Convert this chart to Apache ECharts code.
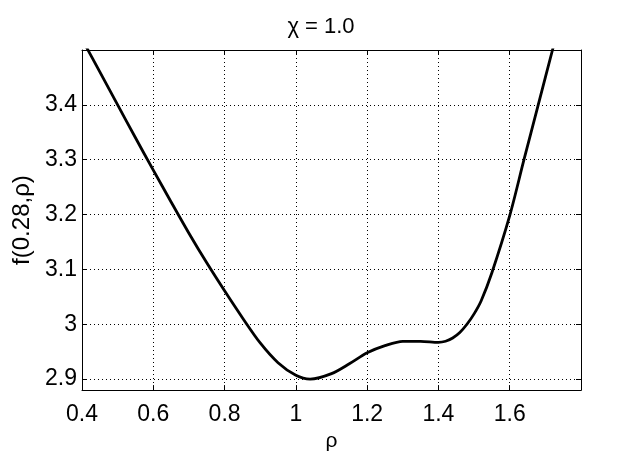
<!DOCTYPE html>
<html>
<head>
<meta charset="utf-8">
<script src="https://cdn.jsdelivr.net/npm/echarts@6/dist/echarts.min.js"></script>
<style>html,body{margin:0;padding:0;background:#fff;}#c{width:642px;height:457px;}</style>
</head>
<body>
<div id="c"></div>
<script>
var rho = [0.40,0.45,0.50,0.55,0.60,0.65,0.70,0.75,0.80,0.85,0.90,0.95,1.00,1.04,1.10,1.15,1.20,1.25,1.30,1.35,1.40,1.42,1.44,1.46,1.48,1.50,1.52,1.55,1.60,1.64,1.68,1.72,1.75];
var fval = [3.520,3.460,3.400,3.340,3.281,3.223,3.166,3.112,3.061,3.012,2.966,2.930,2.907,2.900,2.910,2.928,2.948,2.961,2.969,2.969,2.967,2.969,2.975,2.985,3.000,3.019,3.043,3.094,3.198,3.300,3.400,3.500,3.575];
var xTicks = [0.4,0.6,0.8,1.0,1.2,1.4,1.6];
var yTicks = [2.9,3.0,3.1,3.2,3.3,3.4];
var titleText = 'χ = 1.0';
var xName = 'ρ';
var yName = 'f(0.28,ρ)';

var pts = rho.map(function(r,i){return [r,fval[i]];});
var font = 'Liberation Sans';
var chart = echarts.init(document.getElementById('c'));
var gridLine = {show:true, lineStyle:{color:'#000', type:[1,3], width:1}};
chart.setOption({
  animation:false,
  backgroundColor:'#fff',
  title:{text:titleText, left:'center', top:11, textStyle:{fontFamily:font, fontSize:22, fontWeight:'normal', color:'#000'}},
  grid:{left:82, right:61, top:50, bottom:59, show:false},
  xAxis:[{
    type:'value', min:0.4, max:1.8, interval:0.2, position:'bottom',
    name:xName, nameLocation:'middle', nameGap:40,
    nameTextStyle:{fontFamily:font, fontSize:21, color:'#000'},
    axisLine:{show:true, onZero:false, lineStyle:{color:'#000', width:1}},
    axisTick:{show:true, inside:true, length:5, lineStyle:{color:'#000'}},
    axisLabel:{fontFamily:font, fontSize:23, color:'#000', margin:13,
      formatter:function(v){ var r=Math.round(v*10)/10; if(r>1.7) return ''; return (r===1)?'1':String(r);} },
    splitLine:gridLine
  },{
    type:'value', min:0.4, max:1.8, interval:0.2, position:'top',
    axisLine:{show:true, onZero:false, lineStyle:{color:'#000', width:1}},
    axisTick:{show:true, inside:true, length:5, lineStyle:{color:'#000'}},
    axisLabel:{show:false}, splitLine:{show:false}
  }],
  yAxis:[{
    type:'value', min:2.88, max:3.5, position:'left',
    name:yName, nameLocation:'middle', nameGap:48, nameRotate:90,
    nameTextStyle:{fontFamily:font, fontSize:24, color:'#000'},
    axisLine:{show:true, onZero:false, lineStyle:{color:'#000', width:1}},
    axisTick:{show:true, inside:true, length:5, lineStyle:{color:'#000'}, customValues:yTicks},
    axisLabel:{fontFamily:font, fontSize:23, color:'#000', margin:5, customValues:yTicks,
      formatter:function(v){ var r=Math.round(v*10)/10; return (r===3)?'3':r.toFixed(1);} },
    splitLine:gridLine
  },{
    type:'value', min:2.88, max:3.5, position:'right',
    axisLine:{show:true, onZero:false, lineStyle:{color:'#000', width:1}},
    axisTick:{show:true, inside:true, length:5, lineStyle:{color:'#000'}, customValues:yTicks},
    axisLabel:{show:false}, splitLine:{show:false}
  }],
  series:[{
    type:'line', data:pts, xAxisIndex:0, yAxisIndex:0,
    smooth:0.3, showSymbol:false, clip:true,
    lineStyle:{color:'#000', width:2.8}
  }]
});
</script>
</body>
</html>
